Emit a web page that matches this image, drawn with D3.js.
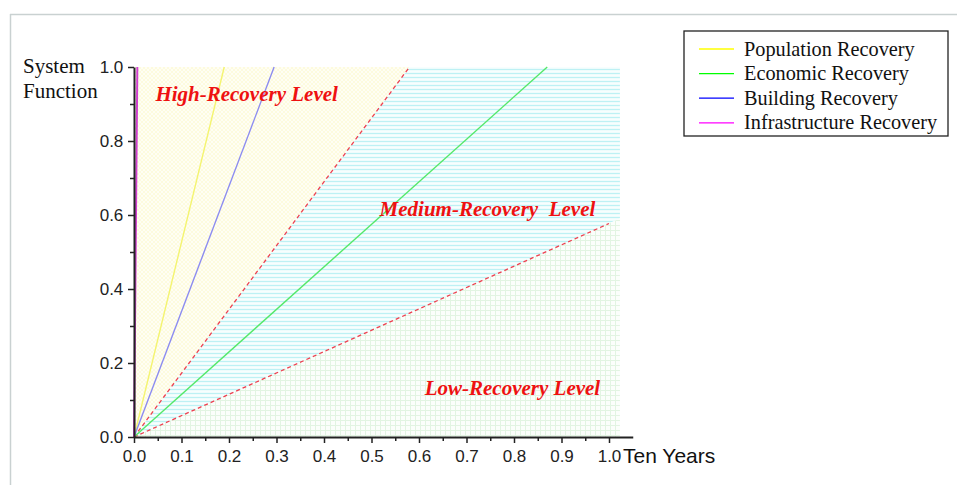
<!DOCTYPE html>
<html>
<head>
<meta charset="utf-8">
<script src="https://cdn.jsdelivr.net/npm/d3@7"></script>
<style>
  body { margin: 0; background: #fff; }
  svg { display: block; }
</style>
</head>
<body>
<svg id="chart" width="957" height="485"></svg>
<script>
// series: straight recovery paths from (0,0) to (endX, 1.0)
const seriesNames = ['Population Recovery', 'Economic Recovery', 'Building Recovery', 'Infrastructure Recovery'];
const seriesEndX = [0.19, 0.87, 0.295, 0.007];
const seriesColors = ['#ffff00', '#00ff00', '#0000ff', '#ff00ff'];
const plotColors = ['#f4f470', '#55e86a', '#8c8cf0', '#d040d0'];

// threshold lines between recovery levels
const upperThreshold = [[0, 0], [0.58, 1.0]];
const lowerThreshold = [[0, 0], [1.0, 0.577]];
const shadeRight = 1.023;

const levelLabels = ['High-Recovery Level', 'Medium-Recovery  Level', 'Low-Recovery Level'];
const levelLabelPos = [[0.045, 0.908], [0.517, 0.597], [0.612, 0.113]];

const xTicks = [0, 0.1, 0.2, 0.3, 0.4, 0.5, 0.6, 0.7, 0.8, 0.9, 1.0];
const yTicks = [0, 0.2, 0.4, 0.6, 0.8, 1.0];

const svg = d3.select('#chart');

const x = d3.scaleLinear().domain([0, 1]).range([134, 609]);
const y = d3.scaleLinear().domain([0, 1]).range([437, 67]);

const serif = '"Liberation Serif", "Times New Roman", serif';
const axisFont = '"Liberation Sans", Arial, sans-serif';

// frame lines
svg.append('line').attr('x1', 10).attr('x2', 957).attr('y1', 14.5).attr('y2', 14.5)
  .attr('stroke', '#c9d1d1').attr('stroke-width', 1.5);
svg.append('line').attr('x1', 10.5).attr('x2', 10.5).attr('y1', 14).attr('y2', 485)
  .attr('stroke', '#c9d1d1').attr('stroke-width', 1.5);

// fill patterns
const defs = svg.append('defs');
const pHigh = defs.append('pattern').attr('id', 'pHigh').attr('patternUnits', 'userSpaceOnUse')
  .attr('width', 4).attr('height', 4);
pHigh.append('rect').attr('width', 4).attr('height', 4).attr('fill', '#fffef4');
pHigh.append('path').attr('d', 'M0,4L4,0M0,0L4,4').attr('stroke', '#fcf9d4').attr('stroke-width', 0.7);

const pMed = defs.append('pattern').attr('id', 'pMed').attr('patternUnits', 'userSpaceOnUse')
  .attr('width', 4).attr('height', 4);
pMed.append('rect').attr('width', 4).attr('height', 4).attr('fill', '#f7fefe');
pMed.append('path').attr('d', 'M0,1.5L4,1.5').attr('stroke', '#bdf1f4').attr('stroke-width', 1.3);

const pLow = defs.append('pattern').attr('id', 'pLow').attr('patternUnits', 'userSpaceOnUse')
  .attr('width', 5).attr('height', 5);
pLow.append('rect').attr('width', 5).attr('height', 5).attr('fill', '#fbfefb');
pLow.append('path').attr('d', 'M0,0.5L5,0.5M0.5,0L0.5,5').attr('stroke', '#e2f4e2').attr('stroke-width', 1);

const area = d3.line().x(d => x(d[0])).y(d => y(d[1]));
const lowTop = lowerThreshold[1][1] / lowerThreshold[1][0] * shadeRight;

const regions = [
  { fill: 'url(#pHigh)', pts: [[0, 0], [0, 1], upperThreshold[1]] },
  { fill: 'url(#pMed)', pts: [[0, 0], upperThreshold[1], [shadeRight, 1], [shadeRight, lowTop]] },
  { fill: 'url(#pLow)', pts: [[0, 0], [shadeRight, lowTop], [shadeRight, 0]] }
];
svg.append('g').selectAll('path').data(regions).join('path')
  .attr('d', d => area(d.pts) + 'Z')
  .attr('fill', d => d.fill);

// threshold dashed lines
svg.append('g').selectAll('path').data([upperThreshold, lowerThreshold]).join('path')
  .attr('d', area)
  .attr('fill', 'none')
  .attr('stroke', '#ee4050')
  .attr('stroke-width', 1.3)
  .attr('stroke-dasharray', '4,3');

// recovery lines
svg.append('g').selectAll('path').data(seriesEndX).join('path')
  .attr('d', (d) => area([[0, 0], [d, 1]]))
  .attr('fill', 'none')
  .attr('stroke', (d, i) => plotColors[i])
  .attr('stroke-width', (d, i) => (i === 3 ? 2 : 1.4));

// level labels
svg.append('g').selectAll('text').data(levelLabels).join('text')
  .attr('x', (d, i) => x(levelLabelPos[i][0]))
  .attr('y', (d, i) => y(levelLabelPos[i][1]))
  .style('font-family', serif)
  .style('font-weight', 'bold')
  .style('font-style', 'italic')
  .style('font-size', '21px')
  .style('white-space', 'pre')
  .attr('fill', '#ee1111')
  .text(d => d);

// axes
const xAxisScale = d3.scaleLinear().domain([0, 1.05]).range([134, x(1.05)]);
const xAxis = svg.append('g').attr('transform', 'translate(0,437)')
  .call(d3.axisBottom(xAxisScale).tickValues(xTicks).tickFormat(d3.format('.1f')).tickSize(6).tickSizeOuter(0));
const xMinor = svg.append('g').attr('transform', 'translate(0,437)')
  .call(d3.axisBottom(xAxisScale).tickValues(d3.range(0.05, 1.05, 0.1)).tickFormat('').tickSize(4).tickSizeOuter(0));
xMinor.select('.domain').remove();

const yAxis = svg.append('g').attr('transform', 'translate(134,0)')
  .call(d3.axisLeft(y).tickValues(yTicks).tickFormat(d3.format('.1f')).tickSize(6).tickSizeOuter(0));
const yMinor = svg.append('g').attr('transform', 'translate(134,0)')
  .call(d3.axisLeft(y).tickValues(d3.range(0.1, 1.0, 0.2)).tickFormat('').tickSize(4).tickSizeOuter(0));
yMinor.select('.domain').remove();

svg.selectAll('.domain').attr('stroke', '#222').attr('stroke-width', 2);
svg.selectAll('.tick line').attr('stroke', '#222').attr('stroke-width', 1.5);
svg.selectAll('.tick text')
  .style('font-family', axisFont).style('font-size', '17px').attr('fill', '#222');
xAxis.selectAll('.tick text').attr('dy', '0.95em');
yAxis.selectAll('.tick text').attr('dx', '-0.1em');

svg.append('text').attr('x', 623).attr('y', 463)
  .style('font-family', axisFont).style('font-size', '21px').attr('fill', '#111')
  .text('Ten Years');

const yTitle = svg.append('text')
  .style('font-family', serif).style('font-size', '21px').attr('fill', '#111');
yTitle.append('tspan').attr('x', 23).attr('y', 73).text('System');
yTitle.append('tspan').attr('x', 23).attr('y', 98).text('Function');

// legend
const legend = svg.append('g').attr('transform', 'translate(684,31)');
legend.append('rect').attr('width', 264).attr('height', 105)
  .attr('fill', '#fff').attr('stroke', '#222').attr('stroke-width', 1.3);
const items = legend.selectAll('g').data(seriesNames).join('g')
  .attr('transform', (d, i) => `translate(0,${18 + i * 24.6})`);
items.append('line').attr('x1', 15).attr('x2', 50)
  .attr('stroke', (d, i) => seriesColors[i]).attr('stroke-width', 1.3);
items.append('text').attr('x', 60).attr('y', 6.5)
  .style('font-family', serif).style('font-size', '20.3px').attr('fill', '#111')
  .text(d => d);
</script>
</body>
</html>
